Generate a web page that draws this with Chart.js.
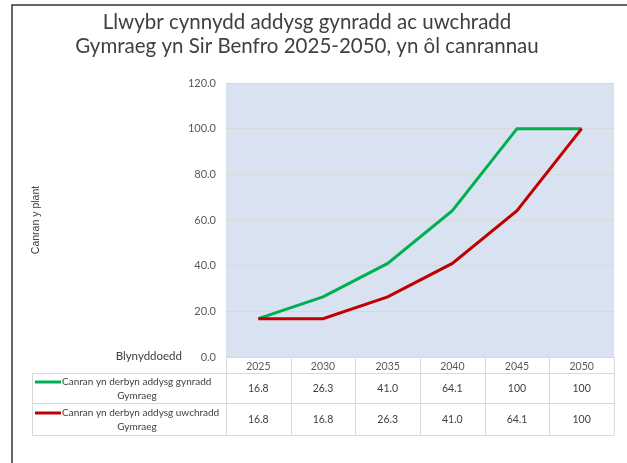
<!DOCTYPE html>
<html>
<head>
<meta charset="utf-8">
<script src="https://cdn.jsdelivr.net/npm/chart.js@4.4.1/dist/chart.umd.min.js"></script>
<style>
body{margin:0;background:#fff}
#wrap{width:627px;height:463px;position:relative}
</style>
</head>
<body>
<div id="wrap"><canvas id="myChart"></canvas></div>
<script>
// data
var years = ['2025','2030','2035','2040','2045','2050'];
var gynradd = [16.8, 26.3, 41.0, 64.1, 100, 100];
var uwchradd = [16.8, 16.8, 26.3, 41.0, 64.1, 100];
var gynraddText = ['16.8','26.3','41.0','64.1','100','100'];
var uwchraddText = ['16.8','16.8','26.3','41.0','64.1','100'];
var yTickLabels = ['0.0','20.0','40.0','60.0','80.0','100.0','120.0'];
var seriesNames = [
  ['Canran yn derbyn addysg gynradd','Gymraeg'],
  ['Canran yn derbyn addysg uwchradd','Gymraeg']
];

var FONT = 'Lato';
var green = '#00b050';
var red = '#c00000';
var grid = '#d9d9d9';
var txt = '#404040';

// blue plot background + outer frame
var bgPlugin = {
  id: 'bg',
  beforeDraw: function(chart){
    var ctx = chart.ctx, a = chart.chartArea;
    ctx.save();
    ctx.fillStyle = '#d9e2f1';
    ctx.fillRect(a.left, a.top, a.right - a.left, a.bottom - a.top);
    ctx.restore();
  },
  afterDraw: function(chart){
    var ctx = chart.ctx;
    ctx.save();
    ctx.strokeStyle = '#333333';
    ctx.lineWidth = 1.5;
    ctx.beginPath();
    ctx.moveTo(12, 463);
    ctx.lineTo(12, 5);
    ctx.lineTo(627, 5);
    ctx.stroke();
    ctx.restore();
  }
};

// excel style data table under the plot
var tablePlugin = {
  id: 'dataTable',
  afterDraw: function(chart){
    var ctx = chart.ctx, xs = chart.scales.x, a = chart.chartArea;
    var half = (xs.getPixelForValue(1) - xs.getPixelForValue(0)) / 2;
    var left = 32;
    var hdrBot = a.bottom + 16;
    var r1 = hdrBot + 30;
    var r2 = r1 + 32;
    ctx.save();
    ctx.strokeStyle = grid;
    ctx.lineWidth = 1;
    ctx.beginPath();
    for (var i = 0; i <= years.length; i++) {
      var x = Math.round(xs.getPixelForValue(i) - half) + 0.5;
      ctx.moveTo(x, a.bottom);
      ctx.lineTo(x, r2);
    }
    [hdrBot, r1, r2].forEach(function(y){
      ctx.moveTo(left, y + 0.5);
      ctx.lineTo(a.right, y + 0.5);
    });
    ctx.moveTo(left + 0.5, hdrBot);
    ctx.lineTo(left + 0.5, r2);
    ctx.stroke();

    ctx.fillStyle = txt;
    ctx.textBaseline = 'middle';
    var rows = [[gynraddText, hdrBot, r1, green], [uwchraddText, r1, r2, red]];
    rows.forEach(function(r, k){
      var mid = (r[1] + r[2]) / 2;
      ctx.font = '10.5px ' + FONT;
      ctx.textAlign = 'center';
      for (var j = 0; j < years.length; j++) {
        ctx.fillText(r[0][j], xs.getPixelForValue(j), mid + 1);
      }
      // legend key + series name
      ctx.strokeStyle = r[3];
      ctx.lineWidth = 3;
      ctx.beginPath();
      ctx.moveTo(35, mid - 6);
      ctx.lineTo(61, mid - 6);
      ctx.stroke();
      ctx.font = '10px ' + FONT;
      ctx.textAlign = 'left';
      ctx.fillText(seriesNames[k][0], 62, mid - 6);
      ctx.textAlign = 'center';
      ctx.fillText(seriesNames[k][1], 137, mid + 8);
    });

    ctx.font = '11.5px ' + FONT;
    ctx.textAlign = 'right';
    ctx.fillText('Blynyddoedd', 182, a.bottom - 1);
    ctx.restore();
  }
};

var ctx = document.getElementById('myChart').getContext('2d');
var myChart = new Chart(ctx, {
  type: 'line',
  data: {
    labels: years,
    datasets: [{
      label: seriesNames[0].join(' '),
      data: gynradd,
      borderColor: green,
      backgroundColor: green,
      borderWidth: 3,
      pointRadius: 0,
      tension: 0,
      order: 1
    }, {
      label: seriesNames[1].join(' '),
      data: uwchradd,
      borderColor: red,
      backgroundColor: red,
      borderWidth: 3,
      pointRadius: 0,
      tension: 0,
      order: 0
    }]
  },
  options: {
    responsive: true,
    maintainAspectRatio: false,
    animation: false,
    layout: {padding: {left: 0, top: 0, right: 13, bottom: 90}},
    plugins: {
      legend: {display: false},
      tooltip: {enabled: false},
      title: {
        display: true,
        text: ['Llwybr cynnydd addysg gynradd ac uwchradd', 'Gymraeg yn Sir Benfro 2025-2050, yn ôl canrannau'],
        color: txt,
        font: {family: FONT, size: 20.5, weight: 'normal', lineHeight: '24px'},
        padding: {top: 10, bottom: 25}
      }
    },
    scales: {
      x: {
        offset: true,
        grid: {display: false, drawTicks: false},
        border: {display: false},
        ticks: {color: '#595959', font: {family: FONT, size: 10.5}, padding: 3, maxRotation: 0},
        afterFit: function(s){ s.height = 16; }
      },
      y: {
        min: 0,
        max: 120,
        grid: {color: grid, drawTicks: false},
        border: {display: false},
        ticks: {
          stepSize: 20,
          color: '#595959',
          font: {family: FONT, size: 11},
          padding: 10,
          callback: function(v, i){ return yTickLabels[i]; }
        },
        title: {
          display: true,
          text: 'Canran y plant',
          color: txt,
          font: {family: 'Liberation Sans', size: 10.5},
          padding: {top: 30, bottom: 0}
        },
        afterFit: function(s){ s.width = 226; }
      }
    }
  },
  plugins: [bgPlugin, tablePlugin]
});
</script>
</body>
</html>
